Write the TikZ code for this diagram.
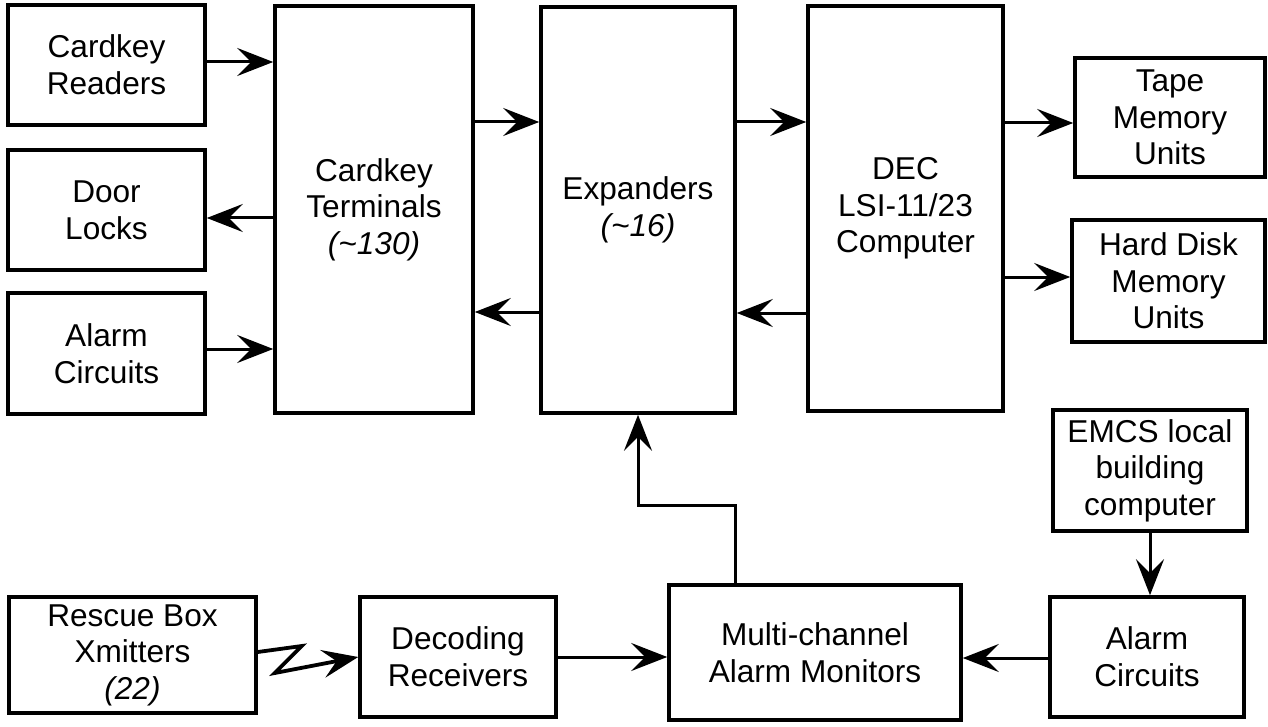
\documentclass[tikz,border=0pt]{standalone}
\usepackage{fontspec}
\setmainfont{Liberation Sans}
\usetikzlibrary{arrows.meta}
\begin{document}
\begin{tikzpicture}[x=0.5pt,y=-0.5pt,
  box/.style={draw, line width=1.8pt, align=center, inner sep=0pt,
    font=\fontsize{15.8}{18.3}\selectfont},
  wh/.style 2 args={minimum width=#1*0.5pt, minimum height=#2*0.5pt},
  arr/.style={line width=1.5pt,
    -{Stealth[length=18pt,width=14pt,inset=7pt]}},
]
\useasboundingbox (0,0) rectangle (1268,727);

% left column
\node[box, wh={197}{120}] (cr)  at (106.5,65)    {Cardkey\\Readers};
\node[box, wh={197}{120}] (dl)  at (106.5,210)   {Door\\Locks};
\node[box, wh={197}{121}] (acl) at (106.5,353.5) {Alarm\\Circuits};

% tall processing blocks
\node[box, wh={198}{407}] (ct)  at (374,209.5)   {Cardkey\\Terminals\\\textit{(\textasciitilde130)}};
\node[box, wh={194}{406}] (ex)  at (638,210)     {Expanders\\\textit{(\textasciitilde16)}};
\node[box, wh={195}{405}] (dec) at (905.5,208.5) {DEC\\LSI-11/23\\Computer};

% storage
\node[box, wh={190}{119}] (tape) at (1170,117.5)  {Tape\\Memory\\Units};
\node[box, wh={193}{122}] (hd)   at (1168.5,281)  {Hard Disk\\Memory\\Units};

% alarm chain
\node[box, wh={194}{121}] (emcs) at (1150,470.5) {EMCS local\\building\\computer};
\node[box, wh={194}{120}] (acr)  at (1147,657)   {Alarm\\Circuits};
\node[box, wh={292}{135}] (mc)   at (815,652.5)  {Multi-channel\\Alarm Monitors};
\node[box, wh={196}{120}] (dr)   at (458,657)    {Decoding\\Receivers};
\node[box, wh={247}{116}] (rb)   at (132.5,655)  {Rescue Box\\Xmitters\\\textit{(22)}};

% card reader links
\draw[arr] (cr.east |- 0,62)  -- (ct.west |- 0,62);
\draw[arr] (ct.west |- 0,218) -- (dl.east |- 0,218);
\draw[arr] (acl.east |- 0,349) -- (ct.west |- 0,349);

% data bus
\draw[arr] (ct.east |- 0,122) -- (ex.west |- 0,122);
\draw[arr] (ex.west |- 0,312) -- (ct.east |- 0,312);
\draw[arr] (ex.east |- 0,122) -- (dec.west |- 0,122);
\draw[arr] (dec.west |- 0,313) -- (ex.east |- 0,313);
\draw[arr] (dec.east |- 0,123) -- (tape.west |- 0,123);
\draw[arr] (dec.east |- 0,277) -- (hd.west |- 0,277);

% alarm links
\draw[arr] (emcs.south) -- (emcs.south |- acr.north);
\draw[arr] (acr.west |- 0,658) -- (mc.east |- 0,658);
\draw[arr] (dr.east) -- (mc.west |- dr.east);
\draw[arr] ([xshift=-40pt]mc.north) -- ++(0,-78) -| (ex.south);

% radio link
\draw[arr, line width=1.9pt] ([yshift=1.5pt]rb.east) -- ++(44,-6) -- ++(-27,27) -- (dr.west);
\end{tikzpicture}
\end{document}
